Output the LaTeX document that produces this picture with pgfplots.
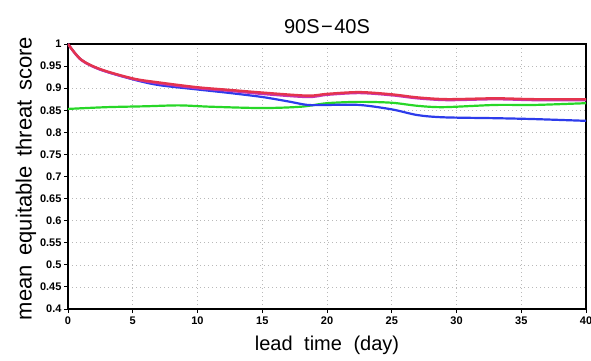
\documentclass[border=0pt]{standalone}
\usepackage{pgfplots}
\pgfplotsset{compat=1.18}
\usepackage{fontspec}
\setmainfont{Liberation Sans}
\setsansfont{Liberation Sans}
\definecolor{cred}{RGB}{228,52,78}
\definecolor{cmag}{RGB}{200,50,180}
\definecolor{cblue}{RGB}{45,60,235}
\definecolor{cgreen}{RGB}{40,215,40}
\begin{document}
\begin{tikzpicture}[x=1pt,y=1pt]
\useasboundingbox (-68,-52) rectangle (523,309);
\begin{axis}[
  at={(0,0)}, anchor=south west,
  scale only axis, width=518pt, height=265pt,
  xmin=0, xmax=40, ymin=0.4, ymax=1,
  xtick={0,5,...,40}, ytick={0.4,0.45,...,1.0001},
  yticklabels={0.4,0.45,0.5,0.55,0.6,0.65,0.7,0.75,0.8,0.85,0.9,0.95,1},
  xticklabels={0,5,10,15,20,25,30,35,40},
  tick align=outside, tick pos=left,
  major tick length=4pt,
  axis line style={line width=1.5pt},
  every tick/.style={black, line width=0.9pt},
  grid=major, grid style={dash pattern=on 1pt off 3pt, gray!55, line width=0.6pt},
  tick label style={font=\bfseries\fontsize{11}{12}\selectfont},
  yticklabel style={xshift=1pt},
  /pgf/number format/assume math mode=true,
  title={90S{\kern1.5pt}−{\kern1.5pt}40S}, title style={font=\fontsize{20}{21}\selectfont, yshift=1pt},
  xlabel={lead\hspace{6pt} time\hspace{6pt} (day)}, ylabel={mean\hspace{3.5pt} equitable\hspace{3.5pt} threat\hspace{3.5pt} score},
  xlabel style={font=\fontsize{20}{21}\selectfont, yshift=-5pt},
  ylabel style={font=\fontsize{22}{23}\selectfont, yshift=-3pt, xshift=-2pt},
  clip=true,
]
\addplot[cgreen, line width=2.2pt, smooth] coordinates {
(0,0.853) (3,0.857) (6,0.859) (8.6,0.861) (11,0.858) (15,0.855) (18,0.858) (20,0.866) (22.5,0.869) (25,0.867) (27,0.860) (29,0.857) (33,0.862) (36,0.862) (40,0.866)};
\addplot[cblue, line width=2.2pt, smooth] coordinates {
(0,1.0) (1,0.965) (2.5,0.942) (5,0.920) (7,0.907) (10,0.897) (12.5,0.889) (15,0.880) (17,0.870) (18.5,0.862) (20,0.862) (22.5,0.862) (25,0.852) (27,0.839) (29,0.834) (33,0.832) (36,0.830) (40,0.826)};
\addplot[cmag, line width=2.4pt, smooth] coordinates {
(0,1.0) (1,0.964) (2.5,0.942) (5,0.921) (7,0.911) (10,0.900) (12.5,0.894) (15,0.887) (18.5,0.880) (20,0.885) (22.5,0.889) (25,0.884) (27,0.877) (29.3,0.873) (33,0.875) (36,0.873) (40,0.873)};
\addplot[cred, line width=2.4pt, smooth] coordinates {
(0,1.0) (1,0.965) (2.5,0.943) (5,0.922) (7,0.913) (10,0.902) (12.5,0.896) (15,0.890) (18.5,0.883) (20,0.887) (22.5,0.891) (25,0.886) (27,0.879) (29.3,0.875) (33,0.877) (36,0.875) (40,0.875)};
\end{axis}
\end{tikzpicture}
\end{document}
